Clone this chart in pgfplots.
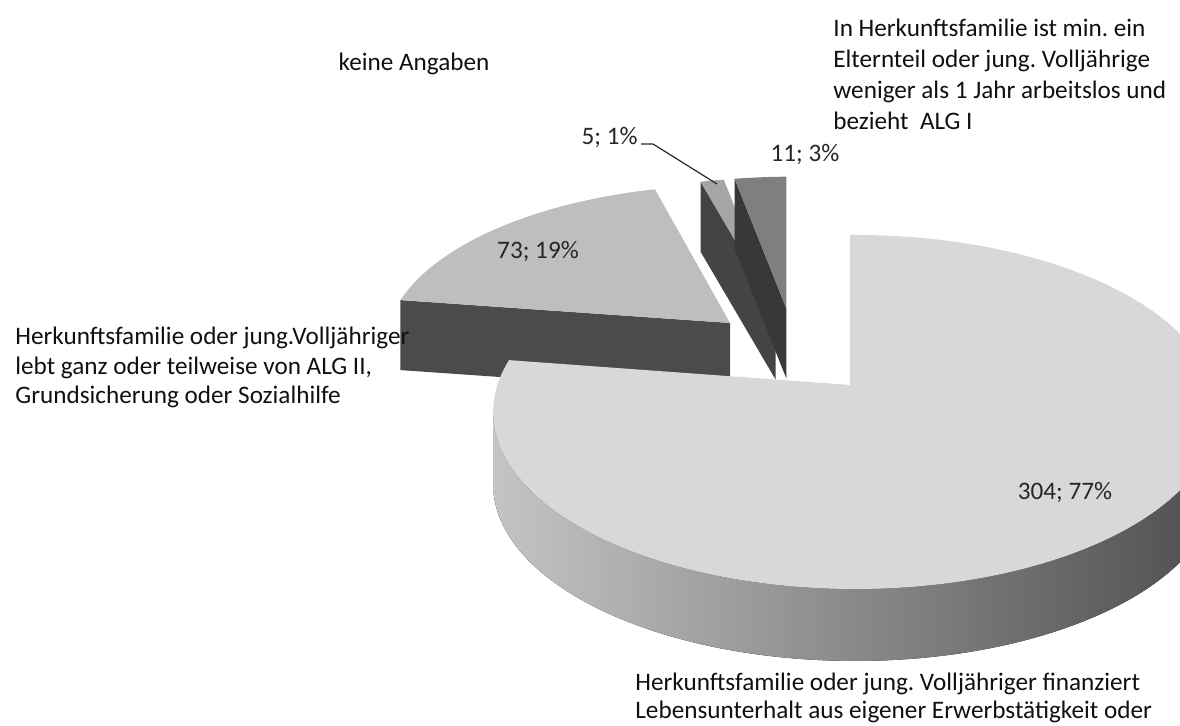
\documentclass[border=0pt]{standalone}
\usepackage{pgfplots}
\pgfplotsset{compat=1.18}
\usepackage{pgfplotstable}
\usepackage{fontspec}
\setmainfont{Carlito}
\frenchspacing

\definecolor{topA}{HTML}{D8D8D8}
\definecolor{topB}{HTML}{BEBEBE}
\definecolor{topC}{HTML}{A5A5A5}
\definecolor{topD}{HTML}{7F7F7F}
\definecolor{sideA}{HTML}{404040}
\definecolor{sideB}{HTML}{4B4B4B}
\definecolor{sideC}{HTML}{444444}
\definecolor{sideD}{HTML}{383838}
\definecolor{wallL}{HTML}{C4C4C4}
\definecolor{wallR}{HTML}{4E4E4E}
\definecolor{lbl}{HTML}{262626}
\definecolor{cat}{HTML}{101010}

\tikzset{
  lab/.style={font=\fontsize{12.6}{15}\selectfont, inner sep=0pt, anchor=base west, text=cat},
  val/.style={font=\fontsize{12.6}{15}\selectfont, inner sep=0pt, anchor=center, text=lbl},
}

% values of the four slices (clockwise from 12 o'clock)
\pgfplotstableread{
value
304
73
5
11
}\piedata

% rim point of a slice at angle #1 (clockwise from 12 o'clock), ellipse a=#2, b=#3 (px), apex above centre by #4 px
\newcommand\rim[4]{%
  \pgfmathsetmacro\rpp{-5/#2}%
  \pgfmathsetmacro\rqq{#4/#3}%
  \pgfmathsetmacro\rpd{\rpp*sin(#1)+\rqq*cos(#1)}%
  \pgfmathsetmacro\rss{-\rpd+sqrt(\rpd*\rpd-\rpp*\rpp-\rqq*\rqq+1)}%
  \pgfmathsetmacro\rX{\rpp+\rss*sin(#1)}%
  \pgfmathsetmacro\rY{\rqq+\rss*cos(#1)}%
  \pgfmathsetmacro\rt{atan2(\rY,\rX)}%
}
\newcommand\mkslice[6]{%
  \pgfmathsetmacro\smid{(#2+#3)/2}%
  \pgfmathsetmacro\sax{794+86*sin(\smid)}%
  \pgfmathsetmacro\say{352-43.5*cos(\smid)}%
  \rim{#2}{#4}{#5}{#6}%
  \let\sta\rt
  \pgfmathsetmacro\sxa{\sax+5+#4*\rX}%
  \pgfmathsetmacro\sya{\say+#6-#5*\rY}%
  \rim{#3}{#4}{#5}{#6}%
  \pgfmathsetmacro\stb{ifthenelse(\rt>\sta,\rt-360,\rt)}%
  \pgfmathsetmacro\sxb{\sax+5+#4*\rX}%
  \pgfmathsetmacro\syb{\say+#6-#5*\rY}%
  \pgfmathsetmacro\sex{\sax+5}%
  \pgfmathsetmacro\sey{\say+#6}%
  \pgfmathsetmacro\swx{\sax+5+#4}%
  \pgfmathsetmacro\srx{0.5*#4}%
  \pgfmathsetmacro\sry{0.5*#5}%
  \expandafter\xdef\csname s#1Ax\endcsname{\sax}%
  \expandafter\xdef\csname s#1Ay\endcsname{\say}%
  \expandafter\xdef\csname s#1xa\endcsname{\sxa}%
  \expandafter\xdef\csname s#1ya\endcsname{\sya}%
  \expandafter\xdef\csname s#1xb\endcsname{\sxb}%
  \expandafter\xdef\csname s#1yb\endcsname{\syb}%
  \expandafter\xdef\csname s#1ta\endcsname{\sta}%
  \expandafter\xdef\csname s#1tb\endcsname{\stb}%
  \expandafter\xdef\csname s#1Ex\endcsname{\sex}%
  \expandafter\xdef\csname s#1Ey\endcsname{\sey}%
  \expandafter\xdef\csname s#1wx\endcsname{\swx}%
  \expandafter\xdef\csname s#1rx\endcsname{\srx}%
  \expandafter\xdef\csname s#1ry\endcsname{\sry}%
}

\begin{document}
\begin{tikzpicture}
\pgfplotstablegetelem{0}{value}\of\piedata \let\vA\pgfplotsretval
\pgfplotstablegetelem{1}{value}\of\piedata \let\vB\pgfplotsretval
\pgfplotstablegetelem{2}{value}\of\piedata \let\vC\pgfplotsretval
\pgfplotstablegetelem{3}{value}\of\piedata \let\vD\pgfplotsretval
\pgfmathsetmacro\tot{\vA+\vB+\vC+\vD}
\pgfmathsetmacro\thB{360*(\vA/\tot)}
\pgfmathsetmacro\thC{360*((\vA+\vB)/\tot)}
\pgfmathsetmacro\thD{360*((\vA+\vB+\vC)/\tot)}
\mkslice{A}{0}{\thB}{362}{177}{27}
\mkslice{B}{\thB}{\thC}{350}{163}{25}
\mkslice{C}{\thC}{\thD}{350}{156}{24}
\mkslice{D}{\thD}{360}{350}{156}{24}

\begin{axis}[
  x=0.5pt, y=0.5pt,
  xmin=0, xmax=1180, ymin=0, ymax=725,
  y dir=reverse,
  hide axis,
  scale only axis,
  clip=true,
]
% slice 73 (19%)
\fill[sideB] (axis cs:\sBAx,\sBAy) -- (axis cs:\sBxa,\sBya) -- ++(0pt,-35pt) -- ([yshift=-35pt]axis cs:\sBAx,\sBAy) -- cycle;
\fill[topB] (axis cs:\sBAx,\sBAy) -- (axis cs:\sBxa,\sBya) arc[start angle=\sBta, end angle=\sBtb, x radius=\sBrx pt, y radius=\sBry pt] -- cycle;
% slice 5 (1%)
\fill[sideC] (axis cs:\sCAx,\sCAy) -- (axis cs:\sCxa,\sCya) -- ++(0pt,-35pt) -- ([yshift=-35pt]axis cs:\sCAx,\sCAy) -- cycle;
\fill[topC] (axis cs:\sCAx,\sCAy) -- (axis cs:\sCxa,\sCya) arc[start angle=\sCta, end angle=\sCtb, x radius=\sCrx pt, y radius=\sCry pt] -- cycle;
% slice 11 (3%)
\fill[sideD] (axis cs:\sDAx,\sDAy) -- (axis cs:\sDxa,\sDya) -- ++(0pt,-35pt) -- ([yshift=-35pt]axis cs:\sDAx,\sDAy) -- cycle;
\fill[topD] (axis cs:\sDAx,\sDAy) -- (axis cs:\sDxa,\sDya) arc[start angle=\sDta, end angle=\sDtb, x radius=\sDrx pt, y radius=\sDry pt] -- cycle;
% slice 304 (77%)
\fill[sideA] (axis cs:\sAAx,\sAAy) -- (axis cs:\sAxa,\sAya) -- ++(0pt,-35pt) -- ([yshift=-35pt]axis cs:\sAAx,\sAAy) -- cycle;
\fill[left color=wallL, right color=wallR] (axis cs:\sAwx,\sAEy) arc[start angle=0, end angle=-180, x radius=\sArx pt, y radius=\sAry pt] -- ++(0pt,-36pt) arc[start angle=-180, end angle=0, x radius=\sArx pt, y radius=\sAry pt] -- cycle;
\fill[topA] (axis cs:\sAAx,\sAAy) -- (axis cs:\sAxa,\sAya) arc[start angle=\sAta, end angle=\sAtb, x radius=\sArx pt, y radius=\sAry pt] -- cycle;

% value labels
\node[val] at (axis cs:1065,493) {304; 77\%};
\node[val] at (axis cs:538,252) {73; 19\%};
\node[val] at (axis cs:805,155) {11; 3\%};
\node[val, anchor=east] at (axis cs:638,138) {5; 1\%};
\draw[lbl, line width=0.6pt] (axis cs:641,144) -- (axis cs:653,144) -- (axis cs:717,184);

% category labels
\node[lab, anchor=base] at (axis cs:414,70) {keine Angaben};
\node[lab] at (axis cs:833,36) {In Herkunftsfamilie ist min. ein};
\node[lab] at (axis cs:833,67) {Elternteil oder jung. Volljährige};
\node[lab] at (axis cs:833,98) {weniger als 1 Jahr arbeitslos und};
\node[lab] at (axis cs:833,129) {bezieht\ \ ALG I};
\node[lab] at (axis cs:15,344) {Herkunftsfamilie oder jung.Volljähriger};
\node[lab] at (axis cs:15,374) {lebt ganz oder teilweise von ALG II,};
\node[lab] at (axis cs:15,403) {Grundsicherung oder Sozialhilfe};
\node[lab] at (axis cs:635,690) {Herkunftsfamilie oder jung. Volljähriger finanziert};
\node[lab] at (axis cs:635,718) {Lebensunterhalt aus eigener Erwerbstätigkeit oder};
\end{axis}
\pgfresetboundingbox
\path[use as bounding box] (current axis.south west) rectangle (current axis.north east);
\end{tikzpicture}
\end{document}
